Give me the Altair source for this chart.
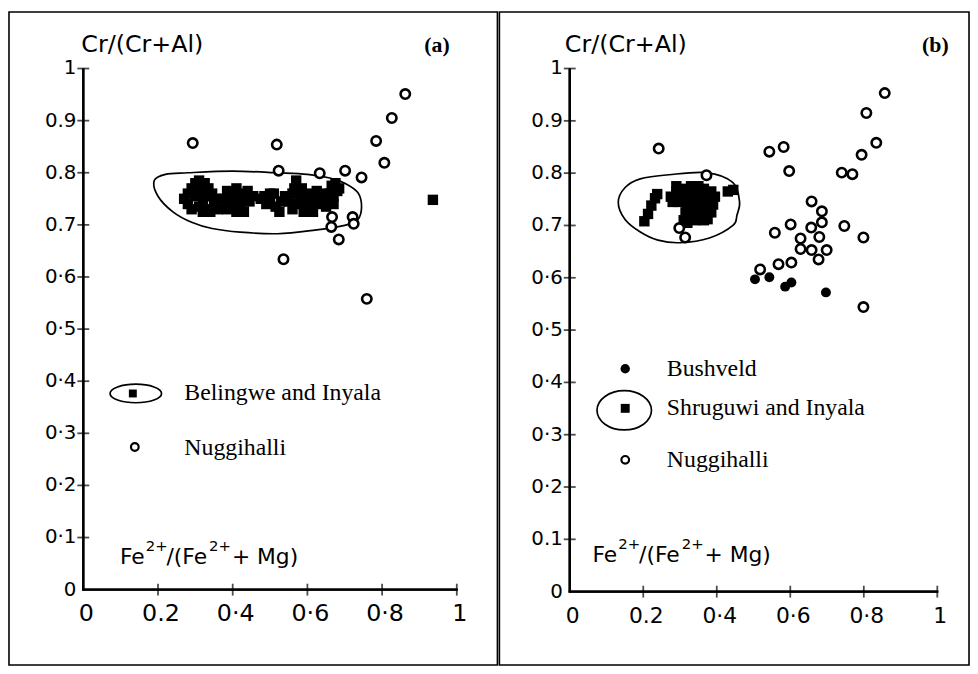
import altair as alt
import pandas as pd

# ---------------- data: panel (a) ----------------
a_nug_x = [0.293, 0.518, 0.523, 0.633, 0.701, 0.745, 0.784, 0.806, 0.826, 0.862,
           0.666, 0.664, 0.721, 0.724, 0.684, 0.536, 0.759]
a_nug_y = [0.857, 0.854, 0.804, 0.799, 0.804, 0.791, 0.861, 0.819, 0.905, 0.951,
           0.715, 0.696, 0.715, 0.702, 0.672, 0.634, 0.558]

a_bel_x = [0.28, 0.28, 0.30, 0.30, 0.31, 0.325, 0.33, 0.335, 0.345, 0.35, 0.34,
           0.27, 0.29, 0.29, 0.315, 0.32, 0.32, 0.335, 0.355, 0.36, 0.31,
           0.385, 0.39, 0.385, 0.41, 0.415, 0.42, 0.44, 0.445, 0.43,
           0.375, 0.40, 0.40, 0.425, 0.43, 0.455, 0.41,
           0.485, 0.50, 0.51, 0.525, 0.475, 0.49, 0.50, 0.515, 0.53,
           0.57, 0.54, 0.56, 0.58, 0.60, 0.62, 0.64, 0.655, 0.575, 0.61, 0.59, 0.615,
           0.55, 0.565, 0.585, 0.59, 0.605, 0.625, 0.63, 0.645, 0.65, 0.66, 0.56, 0.60,
           0.665, 0.68, 0.67, 0.675, 0.685, 0.67,
           0.936]
a_bel_y = [0.76, 0.74, 0.78, 0.755, 0.735, 0.78, 0.755, 0.73, 0.76, 0.74, 0.725,
           0.75, 0.77, 0.73, 0.765, 0.75, 0.725, 0.77, 0.75, 0.73, 0.785,
           0.765, 0.745, 0.73, 0.77, 0.75, 0.735, 0.765, 0.745, 0.725,
           0.75, 0.76, 0.74, 0.76, 0.745, 0.755, 0.725,
           0.755, 0.745, 0.76, 0.725, 0.75, 0.74, 0.76, 0.735, 0.745,
           0.785, 0.755, 0.76, 0.755, 0.76, 0.755, 0.75, 0.745, 0.74, 0.74, 0.725, 0.725,
           0.745, 0.77, 0.77, 0.74, 0.75, 0.765, 0.74, 0.76, 0.735, 0.76, 0.73, 0.73,
           0.775, 0.765, 0.755, 0.78, 0.77, 0.74,
           0.748]

a_env_x = [0.19, 0.22, 0.28, 0.40, 0.52, 0.60, 0.66, 0.70, 0.735, 0.745, 0.735,
           0.70, 0.62, 0.52, 0.42, 0.345, 0.29, 0.24, 0.20]
a_env_y = [0.785, 0.797, 0.80, 0.803, 0.80, 0.797, 0.79, 0.78, 0.762, 0.735, 0.71,
           0.699, 0.69, 0.683, 0.686, 0.693, 0.705, 0.725, 0.755]

# ---------------- data: panel (b) ----------------
b_nug_x = [0.242, 0.543, 0.582, 0.597, 0.372, 0.807, 0.834, 0.794, 0.740, 0.769, 0.857,
           0.658, 0.686, 0.686, 0.601, 0.558, 0.657, 0.747, 0.799, 0.628, 0.679,
           0.628, 0.658, 0.699, 0.677, 0.568, 0.603, 0.518, 0.799, 0.298, 0.314]
b_nug_y = [0.847, 0.841, 0.850, 0.804, 0.796, 0.915, 0.858, 0.835, 0.801, 0.798, 0.953,
           0.746, 0.727, 0.706, 0.702, 0.686, 0.696, 0.699, 0.677, 0.675, 0.678,
           0.655, 0.653, 0.653, 0.635, 0.626, 0.629, 0.616, 0.544, 0.695, 0.677]

b_bush_x = [0.504, 0.543, 0.586, 0.603, 0.697]
b_bush_y = [0.597, 0.601, 0.583, 0.591, 0.572]

b_shr_x = [0.203, 0.213, 0.222, 0.232, 0.238,
           0.275, 0.29, 0.295, 0.31, 0.33, 0.35, 0.365, 0.385, 0.395,
           0.31, 0.33, 0.35, 0.37, 0.39, 0.33, 0.35, 0.37, 0.385,
           0.315, 0.31, 0.33, 0.355, 0.375,
           0.28, 0.30, 0.32, 0.34, 0.36, 0.38, 0.32, 0.34, 0.36, 0.38, 0.34, 0.36,
           0.32, 0.34, 0.365, 0.29,
           0.43, 0.445]
b_shr_y = [0.708, 0.722, 0.738, 0.752, 0.76,
           0.755, 0.765, 0.745, 0.77, 0.775, 0.775, 0.77, 0.765, 0.755,
           0.75, 0.755, 0.755, 0.75, 0.74, 0.735, 0.735, 0.73, 0.725,
           0.725, 0.71, 0.715, 0.715, 0.712,
           0.745, 0.76, 0.76, 0.765, 0.76, 0.755, 0.74, 0.745, 0.745, 0.74, 0.725, 0.725,
           0.705, 0.71, 0.71, 0.775,
           0.765, 0.768]

b_env_x = [0.132, 0.15, 0.192, 0.27, 0.372, 0.444, 0.462, 0.455, 0.444, 0.38, 0.30, 0.24, 0.192, 0.15]
b_env_y = [0.744, 0.772, 0.789, 0.797, 0.801, 0.782, 0.745, 0.72, 0.70, 0.676, 0.667, 0.672, 0.6875, 0.712]

# ---------------- axes ----------------
x_ticks = [0, 0.2, 0.4, 0.6, 0.8, 1]
y_ticks = [0, 0.1, 0.2, 0.3, 0.4, 0.5, 0.6, 0.7, 0.8, 0.9, 1]
a_xlabels = ["0", "0.2", "0·4", "0·6", "0·8", "1"]
b_xlabels = ["0", "0.2", "0·4", "0·6", "0·8", "1"]
a_ylabels = ["0", "0·1", "0·2", "0·3", "0·4", "0·5", "0·6", "0.7", "0.8", "0.9", "1"]
b_ylabels = ["0", "0.1", "0·2", "0·3", "0·4", "0·5", "0·6", "0.7", "0.8", "0.9", "1"]

H = 659
SANS = "DejaVu Sans"
SERIF = "Liberation Serif"
SYM_ELL = "M-1,0 A1,{r} 0 1,1 1,0 A1,{r} 0 1,1 -1,0 Z"
AXW = 1.2  # half width of the axis lines


def dom(p0, p1, total):
    s = p1 - p0
    return [-p0 / s, (total - p0) / s]


def panel(W, px0, px1, py1, py0, nug, squares, env, xlabels, ylabels,
          tag, tag_x, title_x, fe_x, fe_y, xl_size, legend, bush=None):
    xs = alt.Scale(domain=dom(px0, px1, W), nice=False, zero=False)
    ys = alt.Scale(domain=dom(H - py0, H - py1, H), nice=False, zero=False)
    X = lambda f: alt.X(f, type="quantitative", scale=xs, axis=None)
    Y = lambda f: alt.Y(f, type="quantitative", scale=ys, axis=None)

    layers = []
    one = pd.DataFrame({"t": ["axis"]})
    # axis lines drawn as thin filled rectangles
    layers.append(alt.Chart(one).mark_rect(color="black", opacity=1).encode(
        x=alt.value(px0 - AXW), x2=alt.value(px1 + AXW),
        y=alt.value(py0 - AXW), y2=alt.value(py0 + AXW)))
    layers.append(alt.Chart(one).mark_rect(color="black", opacity=1).encode(
        x=alt.value(px0 - AXW), x2=alt.value(px0 + AXW),
        y=alt.value(py1), y2=alt.value(py0 + AXW)))
    # and as polylines through the tick positions
    xline = pd.DataFrame({"v": x_ticks, "z": [0.0] * len(x_ticks)})
    layers.append(alt.Chart(xline).mark_line(color="black", strokeWidth=2.2).encode(
        x=X("v"), y=Y("z"), order="v:Q"))
    yline = pd.DataFrame({"v": y_ticks, "z": [0.0] * len(y_ticks)})
    layers.append(alt.Chart(yline).mark_line(color="black", strokeWidth=2.2).encode(
        x=X("z"), y=Y("v"), order="v:Q"))

    xt = pd.DataFrame({"v": x_ticks[1:], "z": [0] * 5})
    layers.append(alt.Chart(xt).mark_tick(orient="vertical", size=12, thickness=1.8, color="black").encode(
        x=X("v"), y=Y("z")))
    yt = pd.DataFrame({"v": y_ticks[1:], "z": [0] * 10})
    layers.append(alt.Chart(yt).mark_tick(orient="horizontal", size=12, thickness=1.8, color="black").encode(
        x=X("z"), y=Y("v")))

    xl = pd.DataFrame({"v": x_ticks, "t": xlabels, "z": [0] * 6})
    layers.append(alt.Chart(xl).mark_text(font=SANS, fontSize=xl_size, baseline="alphabetic",
                                          dy=32, dx=3, color="black").encode(
        x=X("v"), y=Y("z"), text="t"))
    yl = pd.DataFrame({"v": y_ticks, "t": ylabels, "z": [0] * 11})
    layers.append(alt.Chart(yl).mark_text(font=SANS, fontSize=20, align="right", baseline="middle",
                                          dx=-7, color="black").encode(
        x=X("z"), y=Y("v"), text="t"))

    # envelope
    edf = pd.DataFrame({"x": env[0], "y": env[1], "o": list(range(len(env[0])))})
    layers.append(alt.Chart(edf).mark_line(color="black", strokeWidth=1.7,
                                           interpolate="cardinal-closed").encode(
        x=X("x"), y=Y("y"), order="o"))
    sdf = pd.DataFrame({"x": squares[0], "y": squares[1]})
    layers.append(alt.Chart(sdf).mark_point(shape="square", filled=True, size=110,
                                            color="black", opacity=1).encode(x=X("x"), y=Y("y")))
    if bush is not None:
        bdf = pd.DataFrame({"x": bush[0], "y": bush[1]})
        layers.append(alt.Chart(bdf).mark_point(shape="circle", filled=True, size=100,
                                                color="black", opacity=1).encode(x=X("x"), y=Y("y")))
    ndf = pd.DataFrame({"x": nug[0], "y": nug[1]})
    layers.append(alt.Chart(ndf).mark_point(shape="circle", filled=True, size=90, fill="white",
                                            stroke="black", strokeWidth=2.6, opacity=1).encode(
        x=X("x"), y=Y("y")))

    def txt(s, x, y, **kw):
        return alt.Chart(pd.DataFrame({"t": [s]})).mark_text(**kw).encode(
            x=alt.value(x), y=alt.value(y), text="t")

    layers.append(txt("Cr/(Cr+Al)", title_x, 40, font=SANS, fontSize=24, align="left",
                      baseline="alphabetic", color="black"))
    layers.append(txt(tag, tag_x, 40, font=SERIF, fontSize=22, fontWeight="bold",
                      align="center", baseline="alphabetic", color="black"))
    fe_parts = [("Fe", 0, 0, 22), ("2+", 26, -13, 15), ("/(Fe", 47, 0, 22),
                ("2+", 90, -13, 15), ("+ Mg)", 113, 0, 22)]
    for s, ox, oy, fs in fe_parts:
        layers.append(txt(s, fe_x + ox, fe_y + oy, font=SANS, fontSize=fs, align="left",
                          baseline="alphabetic", color="black"))

    for kind, x, y, extra in legend:
        d = pd.DataFrame({"t": ["."]})
        if kind == "ell":
            layers.append(alt.Chart(d).mark_point(shape=SYM_ELL.format(r=extra[1]), size=(2 * extra[0]) ** 2,
                                                  filled=False, stroke="black", strokeWidth=1.7,
                                                  opacity=1).encode(x=alt.value(x), y=alt.value(y)))
        elif kind == "sq":
            layers.append(alt.Chart(d).mark_point(shape="square", filled=True, size=extra,
                                                  color="black", opacity=1).encode(x=alt.value(x), y=alt.value(y)))
        elif kind == "dot":
            layers.append(alt.Chart(d).mark_point(shape="circle", filled=True, size=extra,
                                                  color="black", opacity=1).encode(x=alt.value(x), y=alt.value(y)))
        elif kind == "ring":
            layers.append(alt.Chart(d).mark_point(shape="circle", filled=False, size=extra,
                                                  stroke="black", strokeWidth=2.2, opacity=1).encode(
                x=alt.value(x), y=alt.value(y)))
        elif kind == "text":
            layers.append(txt(extra, x, y, font=SERIF, fontSize=24, align="left", baseline="middle",
                              color="black"))

    return alt.layer(*layers).properties(width=W, height=H)


legend_a = [("ell", 128, 385, (26, 0.36)), ("sq", 125, 385, 64), ("ring", 127, 439, 60),
            ("text", 177, 385, "Belingwe and Inyala"), ("text", 177, 440, "Nuggihalli")]
legend_b = [("dot", 127, 360, 90), ("ell", 126, 402, (27.5, 0.72)), ("sq", 127, 400, 81),
            ("ring", 127, 452, 60),
            ("text", 169, 360, "Bushveld"), ("text", 169, 400, "Shruguwi and Inyala"),
            ("text", 169, 452, "Nuggihalli")]

pa = panel(493, 75, 452, 57, 583, (a_nug_x, a_nug_y), (a_bel_x, a_bel_y), (a_env_x, a_env_y),
           a_xlabels, a_ylabels, "(a)", 432, 73, 112, 557, 24, legend_a)
pb = panel(474, 71, 442, 57, 585, (b_nug_x, b_nug_y), (b_shr_x, b_shr_y), (b_env_x, b_env_y),
           b_xlabels, b_ylabels, "(b)", 440, 66, 94, 555, 22, legend_b, bush=(b_bush_x, b_bush_y))

chart = alt.hconcat(pa, pb, spacing=0).properties(
    padding={"left": 0, "top": 0, "right": 0, "bottom": 0}
).configure_view(stroke="black", strokeWidth=1.6)

chart.save("out.html", embed_options={"renderer": "svg", "actions": False})
